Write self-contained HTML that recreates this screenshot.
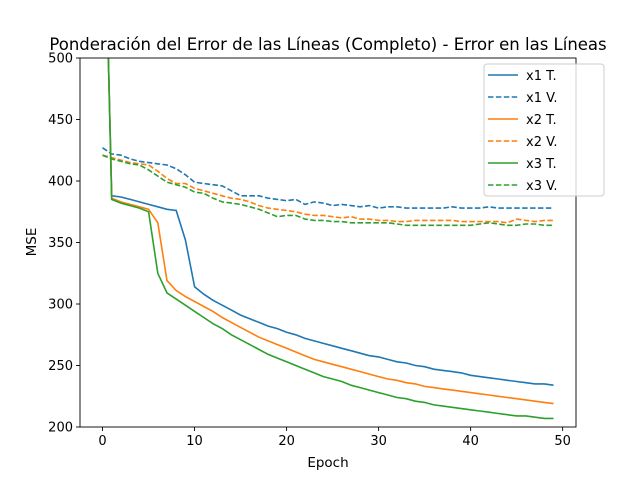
<!DOCTYPE html>
<html><head><meta charset="utf-8"><style>
body{margin:0;background:#fff;font-family:"DejaVu Sans","Liberation Sans",sans-serif;}
svg text{font-family:"DejaVu Sans","Liberation Sans",sans-serif;}
</style></head><body>
<svg id="chart" width="640" height="480" xmlns="http://www.w3.org/2000/svg">
<rect width="640" height="480" fill="#fff"/>
<defs><clipPath id="clip"><rect x="80" y="58" width="496" height="369"/></clipPath></defs>
<text x="328" y="50" font-size="16.5" text-anchor="middle">Ponderación del Error de las Líneas (Completo) - Error en las Líneas</text>
<g id="plot" clip-path="url(#clip)"></g>
<g id="axes"></g>
<text x="328" y="467" font-size="13.5" text-anchor="middle">Epoch</text>
<text x="36" y="242" font-size="13.5" text-anchor="middle" transform="rotate(-90 36 242)">MSE</text>
<g id="legend"></g>
</svg>
<script>
const epochs = Array.from({length:50},(_,i)=>i);
const x1Train = [700,388,387,385,383,381,379,377,376,352,314,308,303,299,295,291,288,285,282,280,277,275,272,270,268,266,264,262,260,258,257,255,253,252,250,249,247,246,245,244,242,241,240,239,238,237,236,235,235,234];
const x1Val = [427,422,421,418,416,415,414,413,410,405,399,398,397,396,392,388,388,388,386,385,384,385,381,383,382,380,381,380,379,380,378,379,379,378,378,378,378,378,379,378,378,378,379,378,378,378,378,378,378,378];
const x2Train = [700,386,383,381,379,377,366,319,311,306,302,298,294,289,285,281,277,273,270,267,264,261,258,255,253,251,249,247,245,243,241,239,238,236,235,233,232,231,230,229,228,227,226,225,224,223,222,221,220,219];
const x2Val = [421,419,417,415,414,413,408,402,398,398,394,392,390,388,386,385,383,380,378,377,376,375,373,372,372,371,370,371,369,369,368,368,367,367,368,368,368,368,368,367,367,367,367,367,366,369,368,367,368,368];
const x3Train = [700,385,382,380,378,375,325,309,304,299,294,289,284,280,275,271,267,263,259,256,253,250,247,244,241,239,237,234,232,230,228,226,224,223,221,220,218,217,216,215,214,213,212,211,210,209,209,208,207,207];
const x3Val = [421,418,416,414,413,409,404,399,397,395,391,390,386,383,382,381,379,377,374,371,372,372,369,368,368,367,367,366,366,366,366,366,365,364,364,364,364,364,364,364,364,365,366,365,364,364,365,365,364,364];
const xTicks = [0,10,20,30,40,50];
const yTicks = [200,250,300,350,400,450,500];
const seriesNames = ["x1 T.","x1 V.","x2 T.","x2 V.","x3 T.","x3 V."];

const NS="http://www.w3.org/2000/svg";
const X0=80,X1=576,Y0=58,Y1=427;
const xMin=-2.45,xMax=51.45,yMin=200,yMax=500;
const xs=v=>X0+(v-xMin)/(xMax-xMin)*(X1-X0);
const ys=v=>Y1-(v-yMin)/(yMax-yMin)*(Y1-Y0);
function mk(tag,attrs,parent){const e=document.createElementNS(NS,tag);for(const k in attrs)e.setAttribute(k,attrs[k]);parent.appendChild(e);return e;}
const plot=document.getElementById('plot'),axes=document.getElementById('axes'),legend=document.getElementById('legend');
const series=[
 {d:x1Train,c:"#1f77b4",dash:null,n:"x1-train-line"},
 {d:x1Val,c:"#1f77b4",dash:"5.5,2.4",n:"x1-val-line"},
 {d:x2Train,c:"#ff7f0e",dash:null,n:"x2-train-line"},
 {d:x2Val,c:"#ff7f0e",dash:"5.5,2.4",n:"x2-val-line"},
 {d:x3Train,c:"#2ca02c",dash:null,n:"x3-train-line"},
 {d:x3Val,c:"#2ca02c",dash:"5.5,2.4",n:"x3-val-line"}];
series.forEach(s=>{
 const p=mk('polyline',{points:s.d.map((v,i)=>xs(epochs[i]).toFixed(1)+','+ys(v).toFixed(1)).join(' '),fill:'none',stroke:s.c,'stroke-width':1.6},plot);
 if(s.dash)p.setAttribute('stroke-dasharray',s.dash);
 
 
});
const frame=mk('rect',{x:X0,y:Y0,width:X1-X0,height:Y1-Y0,fill:'none',stroke:'#000','stroke-width':0.9},axes);


xTicks.forEach(t=>{
 mk('line',{x1:xs(t),x2:xs(t),y1:Y1,y2:Y1+4,stroke:'#000','stroke-width':0.9},axes);
 const tx=mk('text',{x:xs(t),y:Y1+18,'font-size':13,'text-anchor':'middle'},axes);tx.textContent=t;
 
 
});
yTicks.forEach(t=>{
 mk('line',{x1:X0-4,x2:X0,y1:ys(t),y2:ys(t),stroke:'#000','stroke-width':0.9},axes);
 const tx=mk('text',{x:X0-7,y:ys(t)+4.5,'font-size':13,'text-anchor':'end'},axes);tx.textContent=t;
 
 
});
mk('rect',{x:484,y:64,width:120,height:132,rx:3,fill:'#fff','fill-opacity':0.8,stroke:'#ccc','stroke-width':1},legend);
series.forEach((s,i)=>{
 const y=75+i*22;
 const g=mk('g',{},legend);
 
 
 const l=mk('line',{x1:488,x2:518,y1:y,y2:y,stroke:s.c,'stroke-width':1.6},g);
 if(s.dash)l.setAttribute('stroke-dasharray',s.dash);
 const t=mk('text',{x:526,y:y+5,'font-size':13},g);t.textContent=seriesNames[i];
});
</script>
</body></html>
